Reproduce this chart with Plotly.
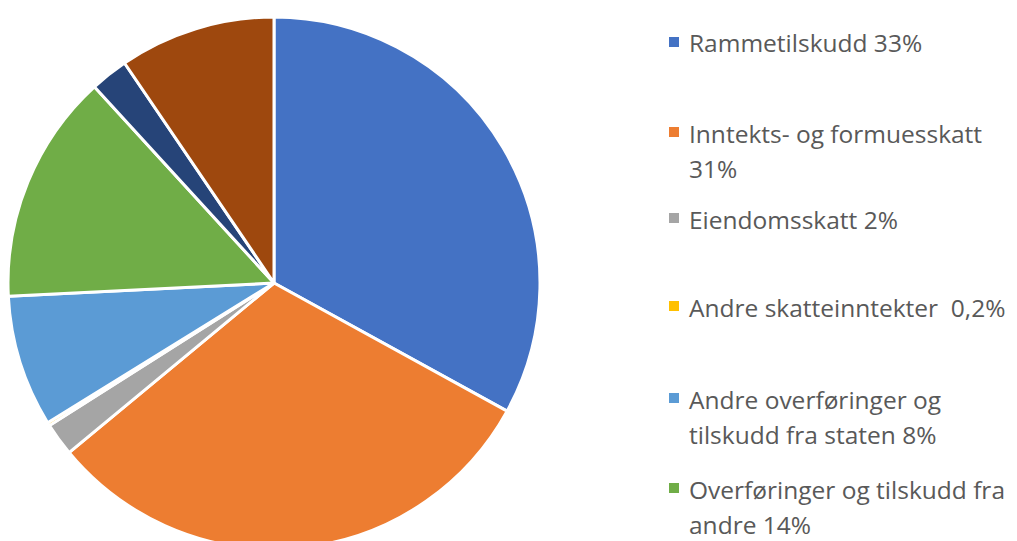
import plotly.graph_objects as go

# the page body adds an 8px margin, so the figure starts at (8, 8) on screen
OX, OY = 8, 8
W, H = 1009, 570

labels = [
    "Rammetilskudd 33%",
    "Inntekts- og formuesskatt 31%",
    "Eiendomsskatt 2%",
    "Andre skatteinntekter  0,2%",
    "Andre overføringer og tilskudd fra staten 8%",
    "Overføringer og tilskudd fra andre 14%",
    "Andre inntekter 2%",
    "Salgs- og leieinntekter 9%",
]
values = [33, 31, 2, 0.2, 8, 14, 2.3, 9.5]
colors = ["#4472C4", "#ED7D31", "#A5A5A5", "#FFC000", "#5B9BD5", "#70AD47", "#264478", "#9E480E"]

# legend lines (visible part of legend), grouped per slice
legend_lines = [
    ["Rammetilskudd 33%"],
    ["Inntekts- og formuesskatt", "31%"],
    ["Eiendomsskatt 2%"],
    ["Andre skatteinntekter  0,2%"],
    ["Andre overføringer og", "tilskudd fra staten 8%"],
    ["Overføringer og tilskudd fra", "andre 14%"],
]
legend_y = [42, 132, 218, 306, 398, 488]  # screen rows of legend markers
line_gap = 35


def px(sx):
    return (sx - OX) / W


def py(sy):
    return 1 - (sy - OY) / H


cx, cy, r = 274, 283, 266  # screen centre and radius of the pie

fig = go.Figure(go.Pie(
    labels=labels,
    values=values,
    marker=dict(colors=colors, line=dict(color="white", width=3)),
    sort=False,
    direction="clockwise",
    rotation=0,
    textinfo="none",
    hoverinfo="label",
    showlegend=False,
    domain=dict(x=[px(cx - r), px(cx + r)], y=[py(cy + r), py(cy - r)]),
))

annotations = []
shapes = []
for i, lines in enumerate(legend_lines):
    y0 = legend_y[i]
    shapes.append(dict(
        type="rect", xref="paper", yref="paper",
        x0=px(669), x1=px(679), y0=py(y0 - 5), y1=py(y0 + 5),
        fillcolor=colors[i], line=dict(width=0),
    ))
    for j, t in enumerate(lines):
        annotations.append(dict(
            text=t, xref="paper", yref="paper",
            x=px(687), y=py(y0 + 1 + j * line_gap),
            xanchor="left", yanchor="middle", showarrow=False,
            font=dict(family="Open Sans", size=24.5, color="#595959"),
        ))

fig.update_layout(
    width=W, height=H,
    margin=dict(l=0, r=0, t=0, b=0),
    paper_bgcolor="white",
    plot_bgcolor="white",
    annotations=annotations,
    shapes=shapes,
)

fig.write_html("out.html")
